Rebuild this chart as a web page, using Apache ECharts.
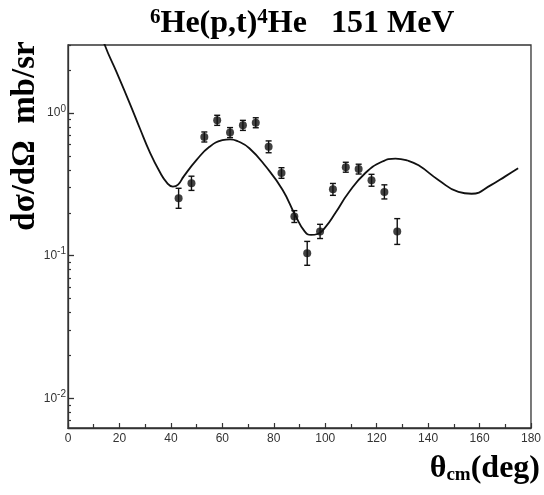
<!DOCTYPE html>
<html>
<head>
<meta charset="utf-8">
<title>6He(p,t)4He 151 MeV</title>
<script src="https://cdn.jsdelivr.net/npm/echarts@6/dist/echarts.min.js"></script>
<style>
	html, body { margin: 0; padding: 0; background: #fff; }
	#chart_container { width: 544px; height: 495px; }
</style>
</head>
<body>
<div id="chart_container"></div>
<script>
// measured points (angle in deg, cross section in mb/sr)
var dataTheta = [43, 48, 53, 58, 63, 68, 73, 78, 83, 88, 93, 98, 103, 108, 113, 118, 123, 128];
var dataValue = [0.253, 0.322, 0.68, 0.89, 0.73, 0.82, 0.855, 0.58, 0.38, 0.188, 0.104, 0.148, 0.292, 0.417, 0.405, 0.338, 0.28, 0.148];
var dataLow   = [0.215, 0.287, 0.627, 0.82, 0.673, 0.756, 0.789, 0.527, 0.349, 0.171, 0.0857, 0.132, 0.265, 0.385, 0.374, 0.307, 0.25, 0.12];
var dataHigh  = [0.297, 0.361, 0.737, 0.965, 0.791, 0.889, 0.927, 0.638, 0.414, 0.207, 0.126, 0.166, 0.321, 0.452, 0.438, 0.372, 0.314, 0.182];

// calculation (solid line)
var curveTheta = [11, 14.3, 18.8, 24, 28, 31.7, 35.6, 38.5, 40.8, 42.8, 45, 50, 55, 60, 63, 66, 70.5, 77, 83.4, 88.5, 92, 94.5, 97, 100, 104, 109, 115.6, 122, 127.3, 132, 136.3, 144, 151.8, 156.9, 164.6, 170, 175];
var curveValue = [4.6, 3.0, 1.95, 1.17, 0.776, 0.537, 0.389, 0.324, 0.305, 0.315, 0.36, 0.47, 0.58, 0.645, 0.655, 0.635, 0.567, 0.42, 0.29, 0.19, 0.148, 0.14, 0.142, 0.158, 0.2, 0.275, 0.38, 0.456, 0.48, 0.465, 0.43, 0.34, 0.28, 0.272, 0.314, 0.36, 0.41];

// axis ticks
var xTickLabels = [0, 20, 40, 60, 80, 100, 120, 140, 160, 180];
var yMajorTicks = [0.01, 0.1, 1];
var yMinorTicks = [0.007, 0.008, 0.009, 0.02, 0.03, 0.04, 0.05, 0.06, 0.07, 0.08, 0.09,
	0.2, 0.3, 0.4, 0.5, 0.6, 0.7, 0.8, 0.9, 2, 3];

var serif = "'Liberation Serif', 'DejaVu Serif', serif";
var sans = "'Liberation Sans', Arial, sans-serif";

function renderChart(dom) {
	var mychart = echarts.init(dom, null, { renderer: 'canvas' });

	var curve = curveTheta.map((t, i) => [t, curveValue[i]]);
	var points = dataTheta.map((t, i) => [t, dataValue[i]]);
	var errors = dataTheta.map((t, i) => [t, dataLow[i], dataHigh[i]]);

	var yBase = {
		type: 'log',
		logBase: 10,
		min: 0.0062,
		max: 3.0,
		position: 'left',
		splitLine: { show: false }
	};

	var option = {
		backgroundColor: '#fff',
		animation: false,
		title: {
			text: '{sup|6}{b|He(p,t)}{sup|4}{b|He   151 MeV}',
			left: 145,
			top: 2,
			textStyle: {
				rich: {
					b: { fontFamily: serif, fontWeight: 'bold', fontSize: 32, color: '#000' },
					sup: { fontFamily: serif, fontWeight: 'bold', fontSize: 21, color: '#000', verticalAlign: 'top', padding: [0, 0, 12, 0] }
				}
			}
		},
		grid: {
			left: 68,
			right: 10,
			top: 45,
			bottom: 67,
			show: true,
			borderColor: '#333',
			borderWidth: 1.3,
			backgroundColor: 'transparent'
		},
		xAxis: {
			type: 'value',
			min: 0,
			max: 180,
			interval: 20,
			splitLine: { show: false },
			axisLine: { lineStyle: { color: '#333', width: 1.3 } },
			axisTick: { inside: true, length: 5, lineStyle: { color: '#333', width: 1.2 } },
			minorTick: { show: true, splitNumber: 2, length: 4, lineStyle: { color: '#333', width: 1.2 } },
			axisLabel: {
				margin: 5,
				fontFamily: sans,
				fontSize: 12,
				color: '#333',
				customValues: xTickLabels
			}
		},
		yAxis: [
			Object.assign({}, yBase, {
				axisLine: { lineStyle: { color: '#333', width: 1.3 } },
				axisTick: { inside: true, length: 6, lineStyle: { color: '#333', width: 1.3 }, customValues: yMajorTicks },
				axisLabel: {
					customValues: yMajorTicks,
					margin: 2,
					fontFamily: sans,
					fontSize: 12,
					color: '#333',
					formatter: v => '10{s|' + Math.round(Math.log10(v)) + '}',
					rich: {
						s: { fontFamily: sans, fontSize: 10, color: '#333', verticalAlign: 'top', padding: [0, 0, 8, 0] }
					}
				}
			}),
			Object.assign({}, yBase, {
				axisLine: { show: false },
				axisTick: { inside: true, length: 3, lineStyle: { color: '#333', width: 1.2 }, customValues: yMinorTicks },
				axisLabel: { show: false }
			})
		],
		graphic: [
			{
				type: 'text',
				x: 25,
				y: 136,
				rotation: Math.PI / 2,
				style: {
					text: 'dσ/dΩ  mb/sr',
					font: 'bold 33px ' + serif,
					fill: '#000',
					textAlign: 'center',
					textVerticalAlign: 'middle'
				}
			},
			{
				type: 'text',
				right: 4,
				top: 453,
				style: {
					text: '{b|θ}{s|cm}{b|(deg)}',
					rich: {
						b: { fontFamily: serif, fontWeight: 'bold', fontSize: 32, fill: '#000' },
						s: { fontFamily: serif, fontWeight: 'bold', fontSize: 19, fill: '#000', verticalAlign: 'bottom', padding: [12, 0, 0, 0] }
					}
				}
			}
		],
		series: [
			{
				type: 'line',
				data: curve,
				smooth: 0.5,
				showSymbol: false,
				clip: true,
				lineStyle: { color: '#111', width: 1.8 },
				z: 2
			},
			{
				type: 'custom',
				data: errors,
				encode: { x: 0, y: [1, 2] },
				renderItem: (params, api) => {
					var t = api.value(0);
					var lo = api.coord([t, api.value(1)]);
					var hi = api.coord([t, api.value(2)]);
					var cap = 3;
					var st = { stroke: '#111', lineWidth: 1.4 };
					return {
						type: 'group',
						children: [
							{ type: 'line', shape: { x1: lo[0], y1: lo[1], x2: hi[0], y2: hi[1] }, style: st },
							{ type: 'line', shape: { x1: lo[0] - cap, y1: lo[1], x2: lo[0] + cap, y2: lo[1] }, style: st },
							{ type: 'line', shape: { x1: hi[0] - cap, y1: hi[1], x2: hi[0] + cap, y2: hi[1] }, style: st }
						]
					};
				},
				z: 3
			},
			{
				type: 'scatter',
				data: points,
				symbol: 'circle',
				symbolSize: 8,
				itemStyle: { color: '#111' },
				z: 4
			}
		]
	};
	mychart.setOption(option, true);
}

renderChart(document.querySelector("#chart_container"));
</script>
</body>
</html>
